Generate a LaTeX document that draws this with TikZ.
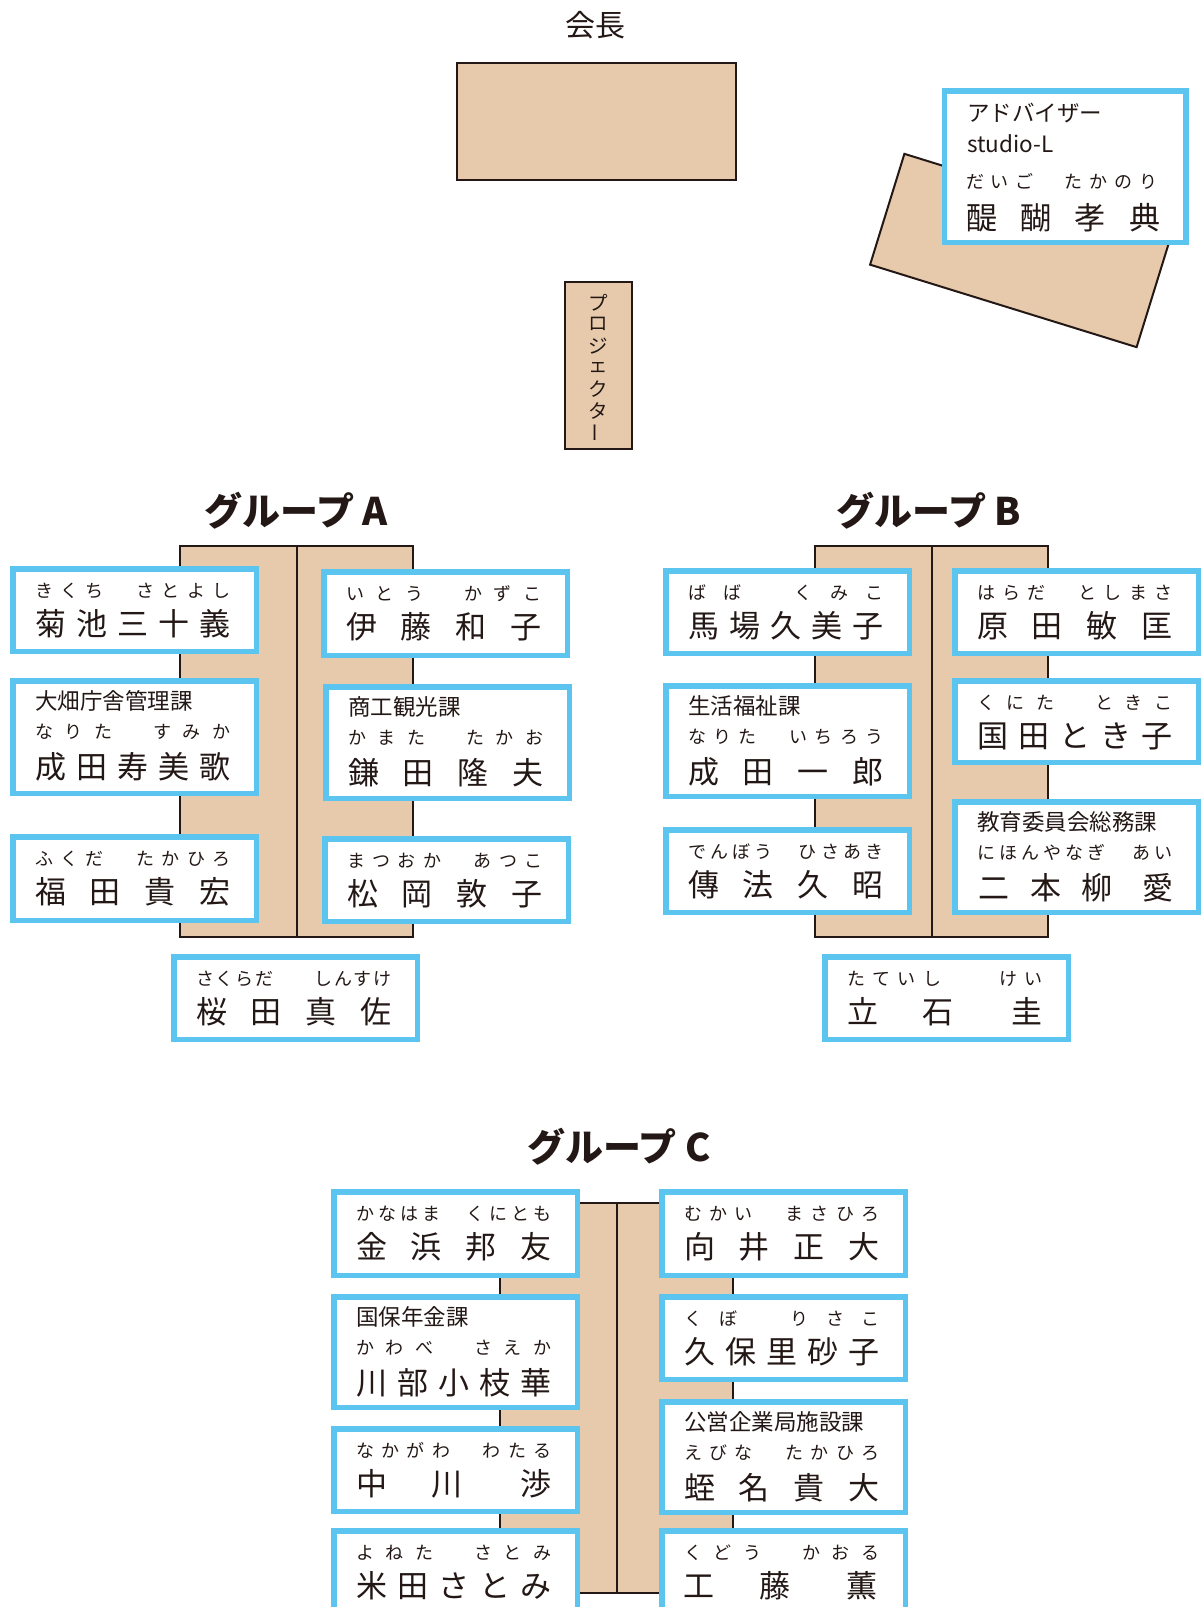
\documentclass[tikz,border=0pt]{standalone}
\usepackage{fontspec}
\setmainfont{Noto Sans CJK JP}
\definecolor{tablefill}{HTML}{E6CAAB}
\definecolor{inkc}{HTML}{231815}
\definecolor{cardblue}{HTML}{5BC5F0}
\tikzset{
  tbl/.style={draw=inkc, fill=tablefill, line width=2pt, inner sep=0pt, outer sep=0pt},
  tblline/.style={draw=inkc, line width=2pt},
  cardbox/.style={draw=cardblue, fill=white, line width=5.5pt, inner sep=0pt, outer sep=0pt, anchor=north west, minimum width=243.5pt},
  furi/.style={font=\fontsize{18}{18}\selectfont, text=inkc, inner sep=0pt, anchor=base},
  nm/.style={font=\fontsize{31}{31}\selectfont, text=inkc, inner sep=0pt, anchor=base},
  dept/.style={font=\fontsize{22.5}{22.5}\selectfont, text=inkc, inner sep=0pt, anchor=base west},
  head/.style={font=\fontsize{38}{38}\selectfont\bfseries, text=inkc, inner sep=0pt, anchor=base},
  plain/.style={text=inkc, inner sep=0pt},
}
% spread a list of characters evenly: #1 prefix, #2 first centre x, #3 last centre x, #4 base y, #5 count, #6 style, #7 list
\newcommand\spreadrow[7]{%
  \foreach \ch [count=\k from 0] in {#7} {%
    \pgfmathsetmacro\xx{(#2)+((#3)-(#2))*\k/((#5)-1)}%
    \node[#6] (#1-\k) at (\xx,{#4}) {\ch};
  }}
\newcommand\mkcard[4]{\node[cardbox, minimum height={(#4-5.5)*1pt}] (#1) at ({#2+2.75},{#3+2.75}) {};}
\newcommand\mkfuri[5]{\spreadrow{#1f}{#2+34}{#2+211.5}{#3}{#4}{furi}{#5}}
\newcommand\mkname[5]{\spreadrow{#1n}{#2+40.5}{#2+204.5}{#3}{#4}{nm}{#5}}
\newcommand\mknameat[4]{%
  \foreach \xo/\ch [count=\k] in {#4} {\node[nm] (#1n-\k) at ({#2+\xo},{#3}) {\ch};}}
\newcommand\mkdept[4]{\node[dept] (#1d) at ({#2+25},{#3}) {#4};}
% two-line card: id, L, T, H, furi n, furi list, name n, name list
\newcommand\twocard[8]{%
  \mkcard{#1}{#2}{#3}{#4}
  \mkfuri{#1}{#2}{#3+31.5}{#5}{#6}
  \mkname{#1}{#2}{#3+69.8}{#7}{#8}}
% three-line card: id, L, T, H, dept, furi n, furi list, name n, name list
\newcommand\threecard[9]{%
  \mkcard{#1}{#2}{#3}{#4}
  \mkdept{#1}{#2}{#3+31.6}{#5}
  \mkfuri{#1}{#2}{#3+60.5}{#6}{#7}
  \mkname{#1}{#2}{#3+100.3}{#8}{#9}}
\begin{document}
\begin{tikzpicture}[x=1pt,y=-1pt]
\useasboundingbox[fill=white] (0,0) rectangle (1200,1607);

% ---- front ----
\node[plain, font=\fontsize{30}{30}\selectfont, anchor=base] (chairlabel) at (595,36.5) {会長};
\node[tbl, minimum width=279pt, minimum height=117pt] (chair) at (596,121) {};
\node[tbl, minimum width=67pt, minimum height=167pt] (projector) at (598.6,365.3) {};
\foreach \ch [count=\k from 0] in {プ,ロ,ジ,ェ,ク,タ} {
  \pgfmathsetmacro\yy{302.5+21.6*\k}
  \node[plain, font=\fontsize{19.5}{19.5}\selectfont] (proj-\k) at (598.5,\yy) {\ch};
}
\node[plain, font=\fontsize{19.5}{19.5}\selectfont, rotate=90] (proj-6) at (598.5,432.5) {ー};

% ---- adviser ----
\node[tbl, minimum width=279pt, minimum height=116pt, rotate=-17.2] (advtable) at (1020.5,250.5) {};
\node[cardbox, minimum width=241.5pt, minimum height=151.5pt] (adv) at (944.5,90.75) {};
\node[dept] (advd) at (967,121.5) {アドバイザー};
\node[dept] (advs) at (967,152) {studio-L};
\spreadrow{advf}{975}{1148}{188.8}{8}{furi}{だ,い,ご,　,た,か,の,り}
\spreadrow{advn}{981.5}{1144.5}{229.2}{4}{nm}{醍,醐,孝,典}

% ---- group A ----
\node[head] (headA) at (296,525) {グループ A};
\node[tbl, minimum width=233pt, minimum height=391pt] (tA) at (296.5,741.5) {};
\draw[tblline] (tA.north) -- (tA.south);
\twocard{a1}{10}{566}{88}{8}{き,く,ち,　,さ,と,よ,し}{5}{菊,池,三,十,義}
\twocard{a2}{321}{569}{89}{7}{い,と,う,　,か,ず,こ}{4}{伊,藤,和,子}
\threecard{a3}{10}{678}{118}{大畑庁舎管理課}{7}{な,り,た,　,す,み,か}{5}{成,田,寿,美,歌}
\threecard{a4}{323}{684}{117}{商工観光課}{7}{か,ま,た,　,た,か,お}{4}{鎌,田,隆,夫}
\twocard{a5}{10}{834}{89}{8}{ふ,く,だ,　,た,か,ひ,ろ}{4}{福,田,貴,宏}
\twocard{a6}{322}{836}{88}{8}{ま,つ,お,か,　,あ,つ,こ}{4}{松,岡,敦,子}
\twocard{a7}{171}{954}{88}{10}{さ,く,ら,だ,　,　,し,ん,す,け}{4}{桜,田,真,佐}

% ---- group B ----
\node[head] (headB) at (929,525) {グループ B};
\node[tbl, minimum width=233pt, minimum height=391pt] (tB) at (931.5,741.5) {};
\draw[tblline] (tB.north) -- (tB.south);
\twocard{b1}{663}{568}{88}{6}{ば,ば,　,く,み,こ}{5}{馬,場,久,美,子}
\twocard{b2}{952}{568}{88}{8}{は,ら,だ,　,と,し,ま,さ}{4}{原,田,敏,匡}
\threecard{b3}{663}{683}{116}{生活福祉課}{8}{な,り,た,　,い,ち,ろ,う}{4}{成,田,一,郎}
\twocard{b4}{952}{678}{87}{7}{く,に,た,　,と,き,こ}{5}{国,田,と,き,子}
\twocard{b5}{663}{827}{88}{9}{で,ん,ぼ,う,　,ひ,さ,あ,き}{4}{傳,法,久,昭}
\mkcard{b6}{952}{799}{116}
\mkdept{b6}{952}{799+31.6}{教育委員会総務課}
\mkfuri{b6}{952}{799+60.5}{9}{に,ほ,ん,や,な,ぎ,　,あ,い}
\mknameat{b6}{952}{799+100.3}{41.5/二,93.5/本,144.5/柳,206/愛}
\mkcard{b7}{822}{954}{88}
\mkfuri{b7}{822}{954+31.5}{8}{た,て,い,し,　,　,け,い}
\mknameat{b7}{822}{954+69.8}{40.5/立,115.5/石,204.5/圭}

% ---- group C ----
\node[head] (headC) at (619,1161.4) {グループ C};
\node[tbl, minimum width=233pt, minimum height=390pt] (tC) at (616.5,1398) {};
\draw[tblline] (tC.north) -- (tC.south);
\twocard{c1}{331}{1189}{89}{9}{か,な,は,ま,　,く,に,と,も}{4}{金,浜,邦,友}
\threecard{c2}{331}{1294}{116}{国保年金課}{7}{か,わ,べ,　,さ,え,か}{5}{川,部,小,枝,華}
\mkcard{c3}{331}{1426}{88}
\mkfuri{c3}{331}{1426+31.5}{8}{な,か,が,わ,　,わ,た,る}
\mknameat{c3}{331}{1426+69.8}{40.5/中,115.5/川,204.5/渉}
\twocard{c4}{331}{1528}{88}{7}{よ,ね,た,　,さ,と,み}{5}{米,田,さ,と,み}
\twocard{c5}{659}{1189}{89}{8}{む,か,い,　,ま,さ,ひ,ろ}{4}{向,井,正,大}
\twocard{c6}{659}{1294}{88}{6}{く,ぼ,　,り,さ,こ}{5}{久,保,里,砂,子}
\threecard{c7}{659}{1399}{116}{公営企業局施設課}{8}{え,び,な,　,た,か,ひ,ろ}{4}{蛭,名,貴,大}
\mkcard{c8}{659}{1528}{88}
\mkfuri{c8}{659}{1528+31.5}{7}{く,ど,う,　,か,お,る}
\mknameat{c8}{659}{1528+69.8}{40/工,115.5/藤,203/薫}
\end{tikzpicture}
\end{document}
